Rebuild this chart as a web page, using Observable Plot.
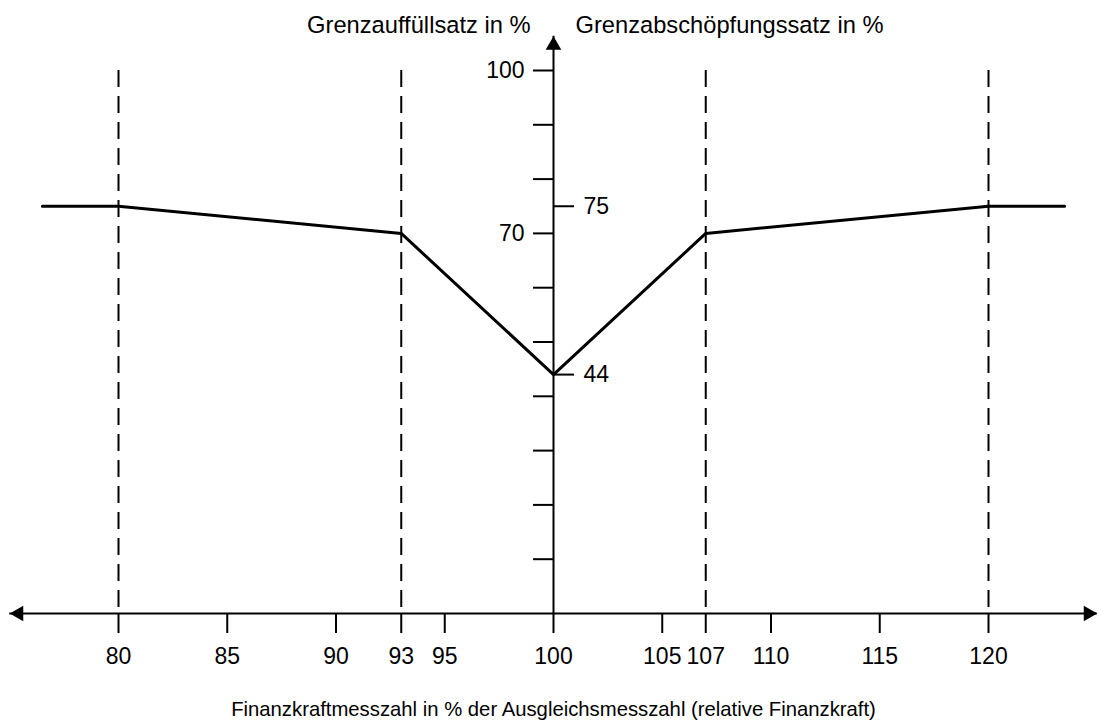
<!DOCTYPE html>
<html>
<head>
<meta charset="utf-8">
<script src="https://cdn.jsdelivr.net/npm/d3@7"></script>
<script src="https://cdn.jsdelivr.net/npm/@observablehq/plot@0.6"></script>
<style>
  html, body { margin: 0; padding: 0; background: #fff; }
</style>
</head>
<body>
<div id="chart"></div>
<script>
// Data
const xPoints = [76.5, 80, 93, 100, 107, 120, 123.5];
const yPoints = [75, 75, 70, 44, 70, 75, 75];
const dashedX = [80, 93, 107, 120];
const xTicks = [80, 85, 90, 93, 95, 100, 105, 107, 110, 115, 120];
const yTicksLeft = [10, 20, 30, 40, 50, 60, 70, 80, 90, 100];
const yLabelsLeft = [100, 70];
const yTicksRight = [75, 44];
const xAxisExtent = [75, 125];
const yAxisOrigin = 100;
const yAxisTop = 106.3;
const titleLeft = "Grenzauffüllsatz in %";
const titleRight = "Grenzabschöpfungssatz in %";
const titleX = "Finanzkraftmesszahl in % der Ausgleichsmesszahl (relative Finanzkraft)";

const W = 1101, H = 724;
const mL = 118, mR = 113, mT = 70, mB = 111;
const xScale = Plot.scale({x: {domain: [80, 120], range: [mL, W - mR]}});
const xc = xScale.apply(yAxisOrigin);

const line = xPoints.map((x, i) => ({x, y: yPoints[i]}));

const plot = Plot.plot({
  width: W,
  height: H,
  marginLeft: mL, marginRight: mR, marginTop: mT, marginBottom: mB,
  style: {fontSize: "23px", fontFamily: "'Liberation Sans', Arial, sans-serif", color: "black", background: "white"},
  x: {domain: [80, 120]},
  y: {domain: [0, 100]},
  marks: [
    Plot.ruleX(dashedX, {x: d => d, y1: 100, y2: 0, strokeWidth: 2, strokeDasharray: "17,9", stroke: "black"}),
    Plot.ruleY([0], {x1: xAxisExtent[0], x2: xAxisExtent[1], strokeWidth: 2, stroke: "black"}),
    Plot.ruleX([yAxisOrigin], {y1: 0, y2: yAxisTop, strokeWidth: 2, stroke: "black"}),
    Plot.dot([xAxisExtent[0]], {x: d => d, y: 0, symbol: "triangle", r: 5.8, rotate: -90, dx: 9, fill: "black", stroke: null}),
    Plot.dot([xAxisExtent[1]], {x: d => d, y: 0, symbol: "triangle", r: 5.8, rotate: 90, dx: -9, fill: "black", stroke: null}),
    Plot.dot([yAxisTop], {x: yAxisOrigin, y: d => d, symbol: "triangle", r: 5.8, rotate: 0, dy: 9, fill: "black", stroke: null}),
    Plot.axisX({anchor: "bottom", ticks: xTicks, tickSize: 20, tickPadding: 14, strokeWidth: 2, tickFormat: d => String(d), label: null}),
    Plot.axisY({anchor: "left", ticks: yTicksLeft, tickSize: 20, tickPadding: 9, strokeWidth: 2, dx: xc - mL,
      tickFormat: d => yLabelsLeft.includes(d) ? String(d) : "", label: null}),
    Plot.axisY({anchor: "right", ticks: yTicksRight, tickSize: 20, tickPadding: 10, strokeWidth: 2, dx: xc - (W - mR),
      tickFormat: d => String(d), label: null}),
    Plot.line(line, {x: "x", y: "y", strokeWidth: 3, stroke: "black", strokeLinejoin: "miter"}),
    Plot.text([titleLeft], {x: yAxisOrigin, y: 100, text: d => d, textAnchor: "end", dx: -23, dy: -45.5, lineAnchor: "middle", fontSize: 23.7}),
    Plot.text([titleRight], {x: yAxisOrigin, y: 100, text: d => d, textAnchor: "start", dx: 22, dy: -45.5, lineAnchor: "middle", fontSize: 23.7}),
    Plot.text([titleX], {x: yAxisOrigin, y: 0, text: d => d, textAnchor: "middle", dx: 0, dy: 96, lineAnchor: "middle", fontSize: 20.3})
  ]
});
document.getElementById("chart").appendChild(plot);
</script>
</body>
</html>
